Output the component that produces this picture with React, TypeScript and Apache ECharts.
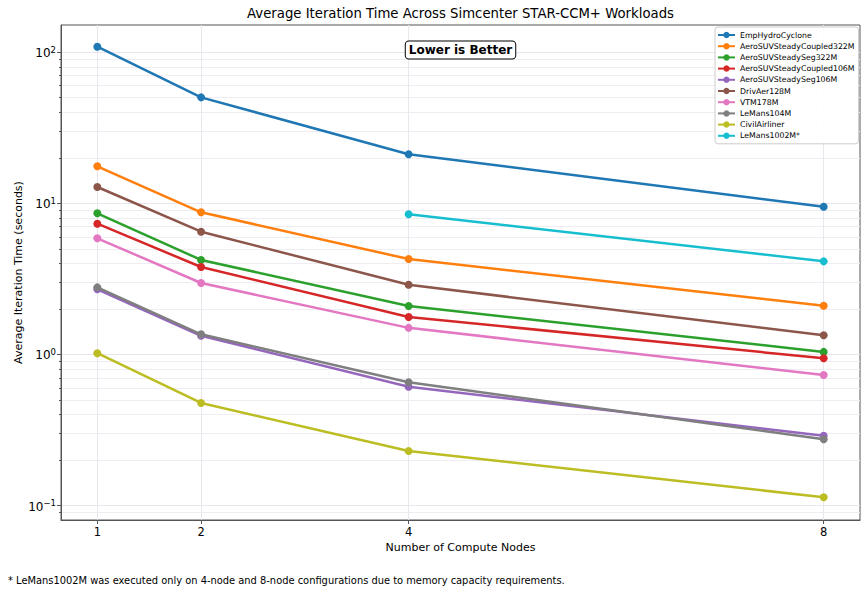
import React, { useEffect, useRef } from "react";
import * as echarts from "echarts";

const nodes = [1, 2, 4, 8];
const xTicks = [1, 2, 4, 8];
const yMajorTicks = [0.1, 1, 10, 100];
const yMajorExponents = ["−1", "0", "1", "2"];
const yMinorTicks = [
  0.09, 0.2, 0.3, 0.4, 0.5, 0.6, 0.7, 0.8, 0.9,
  2, 3, 4, 5, 6, 7, 8, 9,
  20, 30, 40, 50, 60, 70, 80, 90,
];

const seriesNames = [
  "EmpHydroCyclone",
  "AeroSUVSteadyCoupled322M",
  "AeroSUVSteadySeg322M",
  "AeroSUVSteadyCoupled106M",
  "AeroSUVSteadySeg106M",
  "DrivAer128M",
  "VTM178M",
  "LeMans104M",
  "CivilAirliner",
  "LeMans1002M*",
];

const empHydroCyclone = [108.6, 50.2, 21.1, 9.49];
const aeroSUVSteadyCoupled322M = [17.57, 8.72, 4.28, 2.1];
const aeroSUVSteadySeg322M = [8.59, 4.22, 2.09, 1.04];
const aeroSUVSteadyCoupled106M = [7.33, 3.79, 1.77, 0.944];
const aeroSUVSteadySeg106M = [2.7, 1.33, 0.612, 0.29];
const drivAer128M = [12.82, 6.49, 2.89, 1.34];
const vtm178M = [5.87, 2.97, 1.5, 0.732];
const leMans104M = [2.78, 1.36, 0.655, 0.275];
const civilAirliner = [1.02, 0.478, 0.23, 0.1137];
const leMans1002M: (number | null)[] = [null, null, 8.46, 4.13];

const seriesValues = [
  empHydroCyclone,
  aeroSUVSteadyCoupled322M,
  aeroSUVSteadySeg322M,
  aeroSUVSteadyCoupled106M,
  aeroSUVSteadySeg106M,
  drivAer128M,
  vtm178M,
  leMans104M,
  civilAirliner,
  leMans1002M,
];

const colors = [
  "#1f77b4", "#ff7f0e", "#2ca02c", "#d62728", "#9467bd",
  "#8c564b", "#e377c2", "#7f7f7f", "#bcbd22", "#17becf",
];

const FONT = "DejaVu Sans";

export default function App() {
  const ref = useRef<HTMLDivElement>(null);

  useEffect(() => {
    document.body.style.margin = "0";
    if (!ref.current) return;
    const chart = echarts.init(ref.current, null, { renderer: "svg" });

    const series = seriesNames.map((name, i) => ({
      name,
      type: "line",
      xAxisIndex: 0,
      yAxisIndex: 0,
      data: nodes
        .map((n, j) => [n, seriesValues[i][j]])
        .filter((d) => d[1] !== null),
      symbol: "circle",
      symbolSize: 8,
      lineStyle: { width: 2.5, color: colors[i] },
      itemStyle: { color: colors[i] },
      z: 3 + i,
    }));

    const yMin = 0.0804;
    const yMax = 151.1;

    chart.setOption({
      animation: false,
      textStyle: { fontFamily: FONT },
      grid: {
        left: 61,
        top: 25,
        right: 8,
        bottom: 74,
        containLabel: false,
        outerBoundsMode: "none",
        show: true,
        borderColor: "#555",
        borderWidth: 1,
        backgroundColor: "transparent",
      },
      legend: {
        orient: "vertical",
        left: 715,
        top: 27,
        padding: [4, 4, 4, 2],
        itemWidth: 17,
        itemHeight: 8,
        itemGap: 3.2,
        backgroundColor: "rgba(255,255,255,0.9)",
        borderColor: "#cccccc",
        borderWidth: 1,
        borderRadius: 3,
        textStyle: { fontFamily: FONT, fontSize: 7.8, color: "#000", lineHeight: 8, padding: [0, 0, 0, 0] },
        data: seriesNames,
      },
      xAxis: {
        type: "value",
        min: 0.65,
        max: 8.35,
        name: "Number of Compute Nodes",
        nameLocation: "middle",
        nameGap: 22,
        nameMoveOverlap: false,
        nameTextStyle: { fontFamily: FONT, fontSize: 11, color: "#000" },
        axisLine: { show: true, lineStyle: { color: "#555", width: 1 } },
        axisTick: { show: true, customValues: xTicks, length: 4, lineStyle: { color: "#555" } },
        axisLabel: {
          customValues: xTicks,
          fontFamily: FONT,
          fontSize: 11.5,
          color: "#000",
          margin: 6,
          formatter: (v: number) => String(v),
        },
        splitLine: { show: true, lineStyle: { color: "#e9e6ee", width: 1 } },
      },
      yAxis: [
        {
          type: "log",
          logBase: 10,
          min: yMin,
          max: yMax,
          name: "Average Iteration Time (seconds)",
          nameLocation: "middle",
          nameGap: 37,
          nameMoveOverlap: false,
          nameTextStyle: { fontFamily: FONT, fontSize: 11, color: "#000" },
          axisLine: { show: true, lineStyle: { color: "#555", width: 1 } },
          axisTick: { show: true, customValues: yMajorTicks, length: 4, lineStyle: { color: "#555" } },
          axisLabel: {
            customValues: yMajorTicks,
            fontFamily: FONT,
            fontSize: 12,
            color: "#000",
            margin: 5,
            formatter: (v: number) => {
              const idx = yMajorTicks.findIndex((t) => Math.abs(t - v) / t < 1e-6);
              return idx >= 0 ? `{b|10}{s|${yMajorExponents[idx]}}` : "";
            },
            rich: {
              b: { fontFamily: FONT, fontSize: 12, lineHeight: 14, color: "#000", verticalAlign: "bottom" },
              s: { fontFamily: FONT, fontSize: 8.5, lineHeight: 9, color: "#000", verticalAlign: "top" },
            },
          },
          splitLine: { show: true, lineStyle: { color: "#e9e6ee", width: 1 } },
        },
        {
          type: "log",
          logBase: 10,
          min: yMin,
          max: yMax,
          position: "left",
          axisLine: { show: false },
          axisTick: { show: true, customValues: yMinorTicks, length: 2, lineStyle: { color: "#555" } },
          axisLabel: { show: false, customValues: yMinorTicks },
          splitLine: { show: true, lineStyle: { color: "#efedf2", width: 1 } },
        },
      ],
      graphic: [
        {
          type: "text",
          x: 460.5,
          y: 13,
          style: {
            text: "Average Iteration Time Across Simcenter STAR-CCM+ Workloads",
            font: `13.25px "${FONT}"`,
            fill: "#000",
            align: "center",
            verticalAlign: "middle",
          },
        },
        {
          type: "text",
          x: 460.5,
          y: 50,
          z: 100,
          style: {
            text: "Lower is Better",
            font: `bold 12px "${FONT}"`,
            fill: "#000",
            align: "center",
            verticalAlign: "middle",
            backgroundColor: "#fff",
            borderColor: "#000",
            borderWidth: 1,
            borderRadius: 3,
            padding: [3, 3, 2, 3],
          },
        },
        {
          type: "text",
          x: 8,
          y: 580,
          style: {
            text: "* LeMans1002M was executed only on 4-node and 8-node configurations due to memory capacity requirements.",
            font: `9.9px "${FONT}"`,
            fill: "#000",
            align: "left",
            verticalAlign: "middle",
          },
        },
      ],
      series,
    });

    return () => chart.dispose();
  }, []);

  return <div ref={ref} style={{ width: 868, height: 594 }} />;
}
